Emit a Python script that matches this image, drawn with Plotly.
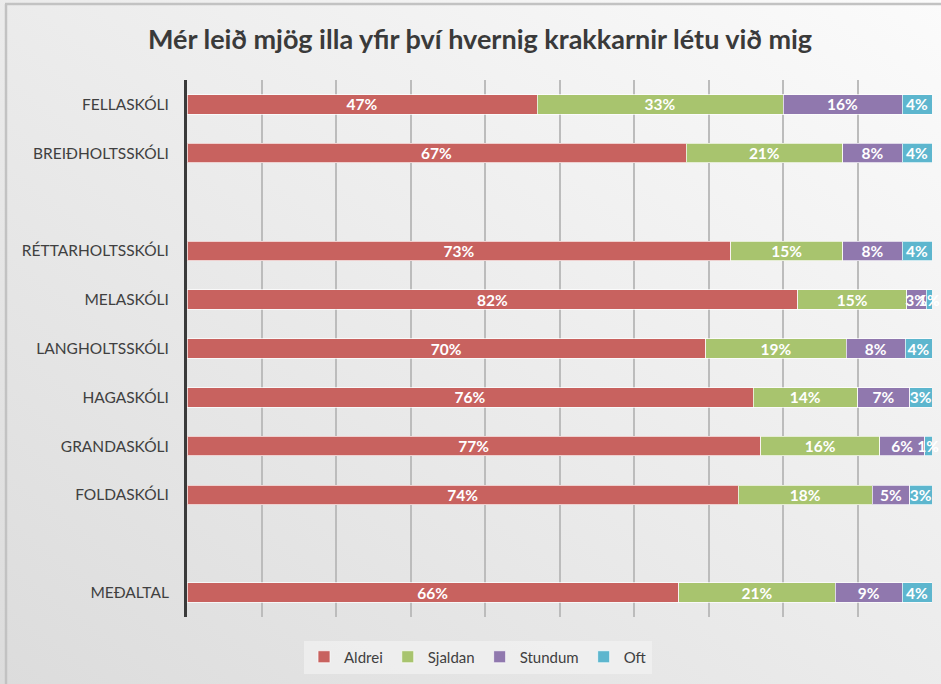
import base64
import plotly.graph_objects as go

categories = ["FELLASKÓLI", "BREIÐHOLTSSKÓLI", " ", "RÉTTARHOLTSSKÓLI", "MELASKÓLI",
              "LANGHOLTSSKÓLI", "HAGASKÓLI", "GRANDASKÓLI", "FOLDASKÓLI", "  ", "MEÐALTAL"]
aldrei  = [47, 67, None, 73, 82.0, 69.6, 76, 77, 74, None, 66]
sjaldan = [33, 21, None, 15, 14.6, 18.9, 14, 16, 18, None, 21]
stundum = [16,  8, None,  8,  2.6,  7.9,  7,  6,  5, None,  9]
oft     = [ 4,  4, None,  4,  0.8,  3.6,  3,  1,  3, None,  4]

series = [("Aldrei", aldrei, "#c8625f"), ("Sjaldan", sjaldan, "#a8c46e"),
          ("Stundum", stundum, "#9078ae"), ("Oft", oft, "#5db6ce")]

W, H = 941, 684
L, R, T, B = 187, 932, 80, 617

fig = go.Figure()
for name, vals, col in series:
    fig.add_trace(go.Bar(
        y=categories, x=vals, name=name, orientation="h",
        marker=dict(color=col, line=dict(color="rgba(255,255,255,0.7)", width=1)),
        texttemplate="%{x:.0f}%", textposition="inside", insidetextanchor="middle",
        textangle=0,
        textfont=dict(family="Lato", size=15.5, color="white", weight="bold"),
        constraintext="none", cliponaxis=False,
    ))

def px(x):
    return (x - L) / (R - L)

def py(y):
    return (B - y) / (B - T)

svg = ('<svg xmlns="http://www.w3.org/2000/svg" width="941" height="684">'
       '<defs><linearGradient id="g" x1="1" y1="0" x2="0" y2="1">'
       '<stop offset="0" stop-color="#fbfbfb"/><stop offset="1" stop-color="#dcdcdc"/>'
       '</linearGradient></defs><rect width="941" height="684" fill="url(#g)"/></svg>')
bg_src = "data:image/svg+xml;base64," + base64.b64encode(svg.encode()).decode()

fig.update_layout(
    width=W, height=H,
    barmode="stack", bargap=0.6,
    paper_bgcolor="#ececec", plot_bgcolor="rgba(0,0,0,0)",
    margin=dict(l=L, r=W - R, t=T, b=H - B, pad=0),
    title=dict(text="<b>Mér leið mjög illa yfir því hvernig krakkarnir létu við mig</b>",
               x=480 / W, xref="container", xanchor="center",
               y=1 - 40 / H, yref="container", yanchor="middle",
               font=dict(family="Lato", size=27, color="#3a3a3a")),
    font=dict(family="Lato", color="#404040"),
    xaxis=dict(range=[0, 100], dtick=10, showticklabels=False, showgrid=True,
               gridcolor="#bcbcbc", gridwidth=1.5, zeroline=False, showline=False,
               fixedrange=True),
    yaxis=dict(autorange="reversed", showline=True, linecolor="#3a3a3a", linewidth=3,
               ticks="", tickfont=dict(family="Lato", size=15.5, color="#404040"),
               ticklabelstandoff=12, showgrid=False),
    legend=dict(orientation="h", traceorder="normal", x=478 / W, xanchor="center",
                xref="container", y=1 - 657 / H, yref="container", yanchor="middle",
                font=dict(family="Lato", size=15, color="#404040"),
                bgcolor="rgba(242,242,242,0.7)", itemwidth=30, tracegroupgap=0),
    images=[dict(source=bg_src, xref="paper", yref="paper",
                 x=px(0), y=py(0), sizex=px(W) - px(0), sizey=py(0) - py(H),
                 xanchor="left", yanchor="top", sizing="stretch", layer="below")],
    shapes=[
        dict(type="line", xref="paper", yref="paper", x0=px(5), x1=px(W), y0=py(4), y1=py(4),
             line=dict(color="#c2c2c2", width=2.5)),
        dict(type="line", xref="paper", yref="paper", x0=px(6), x1=px(6), y0=py(4), y1=py(H),
             line=dict(color="#c2c2c2", width=2.5)),
    ],
)

fig.write_html("out.html", config={"displayModeBar": False},
               post_script="document.body.style.margin='0';document.body.style.overflow='hidden';")
